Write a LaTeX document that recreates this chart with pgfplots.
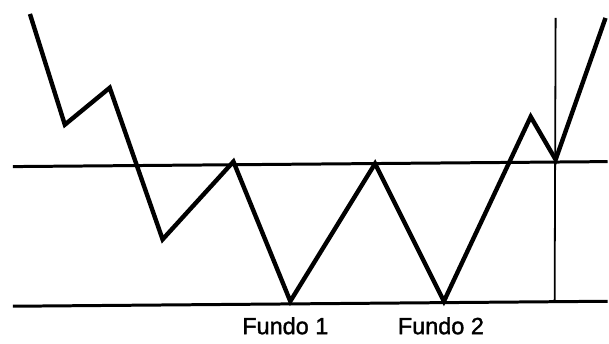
\documentclass[border=0pt]{standalone}
\usepackage{pgfplots}
\pgfplotsset{compat=1.18}
\usepackage{fontspec}
\setmainfont{Liberation Sans}
\newfontfamily\heavyfont[FakeBold=1.5]{Liberation Sans}
\begin{document}
\begin{tikzpicture}
\begin{axis}[
  width=609pt, height=344pt, scale only axis,
  xmin=0, xmax=609, ymin=0, ymax=344,
  y dir=reverse,
  hide axis, clip=false,
]
\addplot[draw=none] coordinates {(0,0) (609,344)};
% horizontal levels
\addplot[black, line width=3pt] coordinates {(13,167) (609,162)};
\addplot[black, line width=3pt] coordinates {(13,307) (609,302)};
% vertical line
\addplot[black, line width=1.8pt] coordinates {(557,18) (556,302)};
% price zigzag
\addplot[black, line width=4.4pt, line join=miter] coordinates {
  (30,14) (65,125) (110,88) (163,240) (234,162) (291,302)
  (376,164) (445,302) (532,117) (557,160) (607,18)
};
\node[anchor=base, font=\heavyfont\fontsize{23.5}{28}\selectfont, inner sep=0pt] at (axis cs:286,335) {Fundo 1};
\node[anchor=base, font=\heavyfont\fontsize{23.5}{28}\selectfont, inner sep=0pt] at (axis cs:442,335) {Fundo 2};
\end{axis}
\end{tikzpicture}
\end{document}
